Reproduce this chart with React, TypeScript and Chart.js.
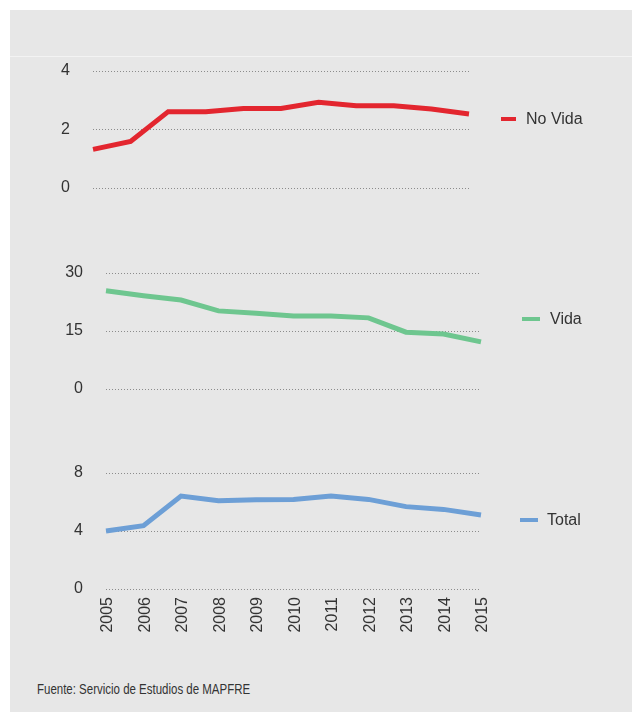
import React, { useEffect, useRef } from "react";
import { Chart, registerables } from "chart.js";

Chart.register(...registerables);

// Years shown on the shared horizontal axis
const years = ["2005", "2006", "2007", "2008", "2009", "2010", "2011", "2012", "2013", "2014", "2015"];

// Series values
const noVida = [1.32, 1.59, 2.61, 2.61, 2.72, 2.72, 2.93, 2.81, 2.81, 2.7, 2.53];
const vida = [25.4, 24.1, 23.0, 20.2, 19.6, 18.9, 18.9, 18.4, 14.7, 14.2, 12.2];
const total = [4.0, 4.37, 6.41, 6.09, 6.16, 6.18, 6.41, 6.18, 5.68, 5.49, 5.1];

// Vertical axis ranges per panel: [min, max, step]
const noVidaAxis = [0, 4, 2];
const vidaAxis = [0, 30, 15];
const totalAxis = [0, 8, 4];

const seriesNames = ["No Vida", "Vida", "Total"];
const sourceNote = "Fuente: Servicio de Estudios de MAPFRE";

const FONT = "'Liberation Sans', Arial, sans-serif";
const TEXT = "#333333";

// Small line key drawn to the right of each panel's plot area
const lineKey = {
  id: "lineKey",
  afterDraw(chart: any, _args: any, opts: any) {
    const { ctx, chartArea } = chart;
    const x = chartArea.right + opts.dx;
    const y = chartArea.top + opts.dy;
    ctx.save();
    ctx.strokeStyle = opts.color;
    ctx.lineWidth = 4;
    ctx.beginPath();
    ctx.moveTo(x, y);
    ctx.lineTo(x + opts.len, y);
    ctx.stroke();
    ctx.fillStyle = TEXT;
    ctx.font = `16px ${FONT}`;
    ctx.textAlign = "left";
    ctx.textBaseline = "middle";
    ctx.fillText(opts.text, x + opts.len + opts.gap, y + 1);
    ctx.restore();
  },
};

type PanelProps = {
  top: number;
  height: number;
  data: number[];
  axis: number[];
  color: string;
  label: string;
  axisWidth: number;
  rightPad: number;
  showYears: boolean;
  keyPos: { dx: number; dy: number; len: number; gap: number };
};

function Panel(p: PanelProps) {
  const ref = useRef<HTMLCanvasElement>(null);
  useEffect(() => {
    if (!ref.current) return;
    const chart = new Chart(ref.current, {
      type: "line",
      data: {
        labels: years,
        datasets: [
          {
            label: p.label,
            data: p.data,
            borderColor: p.color,
            backgroundColor: p.color,
            borderWidth: 5,
            pointRadius: 0,
            tension: 0,
            borderCapStyle: "butt",
          },
        ],
      },
      plugins: [lineKey],
      options: {
        responsive: false,
        animation: false,
        layout: { padding: { left: 0, right: p.rightPad, top: 40, bottom: p.showYears ? 0 : 40 } },
        plugins: {
          legend: { display: false },
          tooltip: { enabled: false },
          lineKey: { ...p.keyPos, text: p.label, color: p.color },
        } as any,
        scales: {
          x: {
            display: p.showYears,
            offset: false,
            grid: { display: false, drawTicks: false },
            border: { display: false },
            ticks: {
              minRotation: 90,
              maxRotation: 90,
              padding: 8,
              labelOffset: 2,
              color: TEXT,
              font: { family: FONT, size: 16 },
            },
            afterFit: (s: any) => {
              s.height = p.showYears ? 50 : 0;
            },
          },
          y: {
            min: p.axis[0],
            max: p.axis[1],
            border: { display: false, dash: [1, 2] },
            grid: {
              color: "#8c8c8c",
              lineWidth: 1,
              drawTicks: false,
            },
            ticks: {
              stepSize: p.axis[2],
              padding: 23,
              color: TEXT,
              font: { family: FONT, size: 16 },
            },
            afterFit: (s: any) => {
              s.width = p.axisWidth;
            },
          },
        },
      } as any,
    });
    return () => chart.destroy();
  }, []);
  return (
    <canvas
      ref={ref}
      width={622}
      height={p.height}
      style={{ position: "absolute", left: 10, top: p.top, width: 622, height: p.height }}
    />
  );
}

export default function App() {
  useEffect(() => {
    document.body.style.margin = "0";
  }, []);
  return (
    <div style={{ position: "fixed", left: 0, top: 0, width: 634, height: 712, background: "#ffffff", overflow: "hidden" }}>
      <div style={{ position: "absolute", left: 10, top: 10, width: 622, height: 710, background: "#e7e7e7" }} />
      <div style={{ position: "absolute", left: 10, top: 56, width: 622, height: 1, background: "#f3f3f3" }} />
      <Panel
        top={31}
        height={197}
        data={noVida}
        axis={noVidaAxis}
        color="#e3262f"
        label={seriesNames[0]}
        axisWidth={83}
        rightPad={163}
        showYears={false}
        keyPos={{ dx: 32, dy: 48, len: 15, gap: 10 }}
      />
      <Panel
        top={233}
        height={196}
        data={vida}
        axis={vidaAxis}
        color="#6ec68f"
        label={seriesNames[1]}
        axisWidth={96}
        rightPad={151}
        showYears={false}
        keyPos={{ dx: 41, dy: 46, len: 18, gap: 10 }}
      />
      <Panel
        top={433}
        height={206}
        data={total}
        axis={totalAxis}
        color="#6d9fd6"
        label={seriesNames[2]}
        axisWidth={96}
        rightPad={151}
        showYears={true}
        keyPos={{ dx: 39, dy: 47, len: 18, gap: 9 }}
      />
      <div
        style={{
          position: "absolute",
          left: 37,
          top: 681,
          font: `14px ${FONT}`,
          lineHeight: "16px",
          color: TEXT,
          whiteSpace: "nowrap",
          transform: "scaleX(0.82)",
          transformOrigin: "0 0",
        }}
      >
        {sourceNote}
      </div>
    </div>
  );
}
